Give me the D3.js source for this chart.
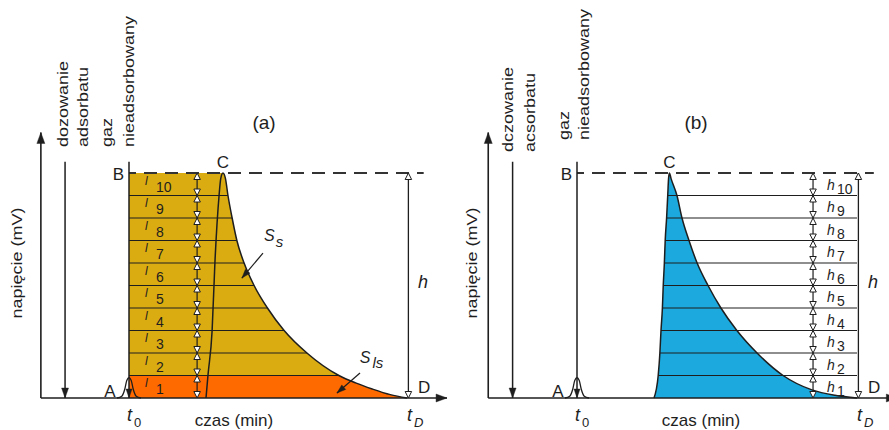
<!DOCTYPE html>
<html lang="pl">
<head>
<meta charset="utf-8">
<title>Chromatografia czołowa – schemat</title>
<script src="https://cdnjs.cloudflare.com/ajax/libs/d3/7.8.5/d3.min.js"></script>
<style>
  body { margin: 0; background: #fff; }
  svg { display: block; font-family: "Liberation Sans", Arial, sans-serif; }
</style>
</head>
<body>
<svg id="chart" width="889" height="430"></svg>
<script>
// band levels, in units of h/10
const levels = [1, 2, 3, 4, 5, 6, 7, 8, 9, 10];

// small injection peak at t0: [t, signal]
const injPeak = [[-4.3, 0], [-2.6, 0.08], [-1.5, 0.4], [-0.8, 0.78], [0, 0.9],
  [0.8, 0.78], [1.5, 0.4], [2.6, 0.08], [4.3, 0]];

// panel (a) breakthrough curve: [level, t] (t: 0 = t0, 100 = tD)
const aRise = [[0, 27.7], [1, 28.4], [3, 29.9], [6, 30.9], [9, 32.4], [9.75, 33.0]];
const aPeak = [10, 33.8];
const aFall = [[9.75, 34.7], [9, 35.6], [8, 37.1], [7, 38.8], [6, 41.4], [5, 45.0],
  [4, 49.8], [3, 55.8], [2, 64.0], [1, 75.5], [0.67, 81.5], [0.4, 87.5], [0.15, 94.0], [0, 100]];

// panel (b)
const bRise = [[0, 27.5], [1, 29.0], [2, 29.6], [3, 30.0], [4, 30.5], [5, 30.8],
  [6, 31.2], [7, 31.5], [8, 32.0], [9, 32.4], [9.75, 32.7]];
const bPeak = [10, 33.0];
const bFall = [[9.75, 33.6], [9, 35.7], [8, 37.5], [7, 40.0], [6, 42.9], [5, 46.8],
  [4, 51.4], [3, 57.1], [2, 64.3], [1, 73.6], [0.36, 83.9], [0.12, 92.1], [0, 100]];

// texts
const vLabelsA = ["dozowanie", "adsorbatu", "gaz", "nieadsorbowany"];
const vLabelsB = ["dczowanie", "acsorbatu", "gaz", "nieadsorbowany"];
const yTitle = "napięcie (mV)";
const xTitle = "czas (min)";

const gold = "#DBAC12", orange = "#FF6A00", blue = "#1BA9DE", ink = "#1e1e1e";

const svg = d3.select("#chart");
const y = d3.scaleLinear().domain([0, 10]).range([398, 173]);

const defs = svg.append("defs");
function addMarker(id, len, wid, fill) {
  defs.append("marker")
    .attr("id", id)
    .attr("viewBox", `0 0 ${len} ${wid}`)
    .attr("refX", len).attr("refY", wid / 2)
    .attr("markerWidth", len).attr("markerHeight", wid)
    .attr("markerUnits", "userSpaceOnUse")
    .attr("orient", "auto-start-reverse")
    .attr("overflow", "visible")
    .append("path")
    .attr("d", `M0,0L${len},${wid / 2}L0,${wid}Z`)
    .attr("fill", fill)
    .attr("stroke", ink)
    .attr("stroke-width", fill === "#fff" ? 1 : 0.4);
}
addMarker("axisHead", 11, 8, ink);
addMarker("downHead", 10, 7, ink);
addMarker("openHead", 6.5, 6.5, "#fff");
addMarker("smallHead", 9, 6, ink);

function seg(g, x1, y1, x2, y2, w) {
  return g.append("line")
    .attr("x1", x1).attr("y1", y1).attr("x2", x2).attr("y2", y2)
    .attr("stroke", ink).attr("stroke-width", w || 1.3);
}

function txt(g, x, y, s, size, opts) {
  opts = opts || {};
  return g.append("text")
    .attr("x", x).attr("y", y)
    .attr("font-size", size)
    .attr("font-style", opts.italic ? "italic" : null)
    .attr("text-anchor", opts.anchor || "start")
    .attr("fill", ink)
    .text(s);
}

function vtxt(g, x, y, s, anchor) {
  g.append("text")
    .attr("transform", `translate(${x},${y}) rotate(-90) scale(1,0.85)`)
    .attr("font-size", 18)
    .attr("text-anchor", anchor || "start")
    .attr("fill", ink)
    .text(s);
}

function drawPanel(p) {
  const x = d3.scaleLinear().domain([0, 100]).range([p.t0px, p.tDpx]);
  const g = svg.append("g");
  const edge = p.rise.concat([p.peak], p.fall);
  const outline = d3.line().x(d => x(d[1])).y(d => y(d[0])).curve(d3.curveMonotoneX);
  const at = (arr, k) => arr.find(d => d[0] === k)[1];

  if (p.mode === "a") {
    // area between t0 and the falling edge = rect up to the peak + the peak itself
    const addShapes = sel => {
      sel.append("rect")
        .attr("x", x(0)).attr("y", y(10))
        .attr("width", x(p.peak[1]) - x(0)).attr("height", y(0) - y(10));
      sel.append("path").attr("d", outline(edge) + "Z");
    };
    addShapes(defs.append("clipPath").attr("id", "clipA"));
    const fillG = g.append("g").attr("fill", gold);
    addShapes(fillG);
    g.append("rect")
      .attr("x", x(0)).attr("y", y(1))
      .attr("width", x(110) - x(0)).attr("height", y(0) - y(1))
      .attr("fill", orange)
      .attr("clip-path", "url(#clipA)");
    levels.filter(k => k < 10).forEach(k => seg(g, x(0), y(k), x(at(p.fall, k)), y(k), 1.2));
  } else {
    g.append("path").attr("d", outline(edge) + "Z").attr("fill", blue);
    levels.filter(k => k < 10).forEach(k => seg(g, x(at(p.rise, k)), y(k), x(100), y(k), 1.2));
  }

  // breakthrough curve outline
  g.append("path").attr("d", outline(edge))
    .attr("fill", "none").attr("stroke", ink).attr("stroke-width", 1.5);

  // dashed plateau line
  seg(g, x(0), y(10), x(106), y(10), 2)
    .attr("stroke", "#333").attr("stroke-dasharray", "13,8").attr("stroke-dashoffset", 6);

  // axes
  seg(g, x(-31.7), y(0), x(-31.7), y(11.8), 1.6).attr("marker-end", "url(#axisHead)");
  seg(g, x(-31.7), y(0), x(114.4), y(0), 1.6).attr("marker-end", "url(#axisHead)");

  // dosing arrow and B line (non-adsorbed gas)
  seg(g, x(-23), y(10.5), x(-23), y(0), 1.5).attr("marker-end", "url(#downHead)");
  seg(g, x(0), y(10.5), x(0), y(0), 1.5).attr("marker-end", "url(#smallHead)");

  // injection peak A
  g.append("path")
    .attr("d", d3.line().x(d => x(d[0])).y(d => y(d[1])).curve(d3.curveMonotoneX)(injPeak))
    .attr("fill", "none").attr("stroke", ink).attr("stroke-width", 1.3);

  // stacked double arrows (l_i / h_i)
  levels.forEach(k => {
    seg(g, x(p.arrowT), y(k - 1), x(p.arrowT), y(k), 1.2)
      .attr("marker-start", "url(#openHead)")
      .attr("marker-end", "url(#openHead)");
  });
  // h arrow
  seg(g, x(100.5), y(0), x(100.5), y(10), 1.3)
    .attr("marker-start", "url(#openHead)")
    .attr("marker-end", "url(#openHead)");

  // band labels
  levels.forEach(k => {
    const bottom = y(k - 1);
    txt(g, p.labX, bottom - p.labDy, p.labChar, p.labSize, { italic: true });
    txt(g, p.numX, bottom - p.numDy, String(k), 14);
  });

  // letters
  txt(g, x(0) - 5, y(10) + 7, "B", 17, { anchor: "end" });
  txt(g, x(0) - 19, 397, "A", 17, { anchor: "middle" });
  txt(g, x(p.peak[1]), 168, "C", 17, { anchor: "middle" });
  txt(g, x(100) + 11, 393, "D", 17);
  txt(g, x(100) + 11, 288, "h", 18, { italic: true });

  txt(g, x(0) - 2, 421, "t", 18, { italic: true });
  txt(g, x(0) + 5, 427, "0", 13);
  txt(g, x(100), 421, "t", 18, { italic: true });
  txt(g, x(100) + 7, 427, "D", 13, { italic: true });
  txt(g, p.xTitleX, 426, xTitle, 17, { anchor: "middle" });
  txt(g, p.titleX, 129, p.title, 19, { anchor: "middle" });

  vtxt(g, p.yTitleX, 263, yTitle, "middle");
  p.vLabels.forEach((s, i) => vtxt(g, p.vX[i], p.vY[i], s));

  return { g: g, x: x };
}

const pa = drawPanel({
  mode: "a", t0px: 129, tDpx: 407,
  rise: aRise, peak: aPeak, fall: aFall,
  arrowT: 24.5, labChar: "l", labSize: 12, labX: 145, labDy: 11, numX: 156, numDy: 4,
  title: "(a)", titleX: 264, xTitleX: 234, yTitleX: 22,
  vLabels: vLabelsA, vX: [68, 88, 112, 134], vY: [147, 147, 147, 147]
});

const pb = drawPanel({
  mode: "b", t0px: 577, tDpx: 857,
  rise: bRise, peak: bPeak, fall: bFall,
  arrowT: 84.3, labChar: "h", labSize: 14, labX: 827, labDy: 6, numX: 837, numDy: 2,
  title: "(b)", titleX: 696, xTitleX: 701, yTitleX: 477,
  vLabels: vLabelsB, vX: [513, 535, 569, 589], vY: [152, 152, 140, 140]
});

// area annotations in panel (a)
const xa = pa.x;
seg(pa.g, xa(48.2), y(6.44), xa(40.6), y(5.33), 1.2).attr("marker-end", "url(#smallHead)");
txt(pa.g, xa(48.6), y(6.98), "S", 16, { italic: true });
txt(pa.g, xa(52.8), y(6.72), "s", 15, { italic: true });

seg(pa.g, xa(83.1), y(1.11), xa(74.8), y(0.22), 1.2).attr("marker-end", "url(#smallHead)");
txt(pa.g, xa(83.0), y(1.56), "S", 16, { italic: true });
txt(pa.g, xa(87.6), y(1.33), "ls", 15, { italic: true });
</script>
</body>
</html>
